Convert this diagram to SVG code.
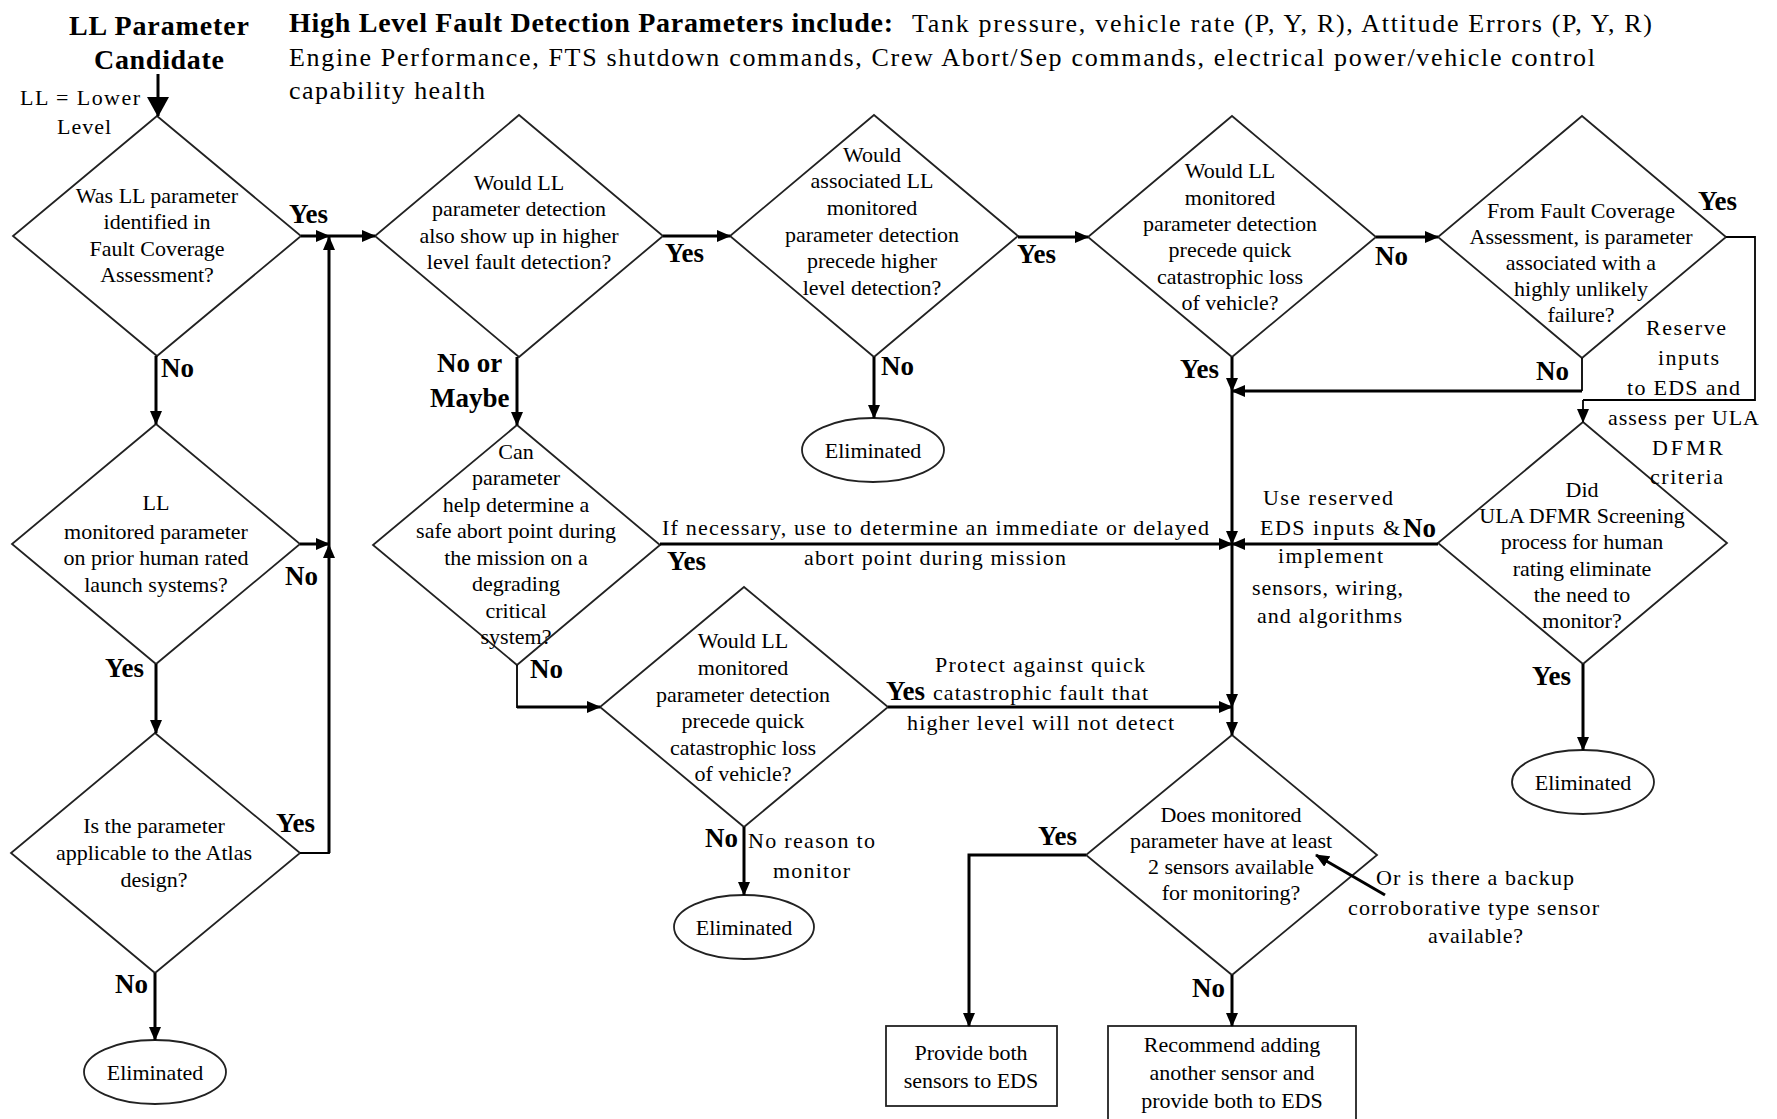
<svg xmlns="http://www.w3.org/2000/svg" width="1777" height="1119" viewBox="0 0 1777 1119">
<style>
text{font-family:"Liberation Serif","Times New Roman",serif;fill:#000}
.t{font-size:22px;text-anchor:middle}
.a{font-size:22px}
.b{font-size:27px;font-weight:bold}
.h{font-size:26px}
.hb{font-size:28px;font-weight:bold}
.shape{fill:#fff;stroke:#222;stroke-width:1.8}
.c{fill:none;stroke:#000;stroke-width:3}
.cn{fill:none;stroke:#000;stroke-width:1.8}
</style>
<defs>
<marker id="ah" viewBox="0 0 14 12" refX="13" refY="6" markerWidth="14" markerHeight="12" markerUnits="userSpaceOnUse" orient="auto"><path d="M0,0 L14,6 L0,12 z" fill="#000"/></marker>
<marker id="ahb" viewBox="0 0 20 22" refX="19" refY="11" markerWidth="20" markerHeight="22" markerUnits="userSpaceOnUse" orient="auto"><path d="M0,0 L20,11 L0,22 z" fill="#000"/></marker>
</defs>
<rect width="1777" height="1119" fill="#fff"/>

<g id="header">
<text x="69" y="35" class="hb" textLength="180" lengthAdjust="spacing">LL Parameter</text>
<text x="94" y="69" class="hb" textLength="130" lengthAdjust="spacing">Candidate</text>
<text x="20" y="105" class="a" textLength="120" lengthAdjust="spacing">LL = Lower</text>
<text x="57" y="134" class="a" textLength="54" lengthAdjust="spacing">Level</text>
<text x="289" y="32" class="hb" textLength="604" lengthAdjust="spacing">High Level Fault Detection Parameters include:</text>
<text x="912" y="32" class="h" textLength="740" lengthAdjust="spacing">Tank pressure, vehicle rate (P, Y, R), Attitude Errors (P, Y, R)</text>
<text x="289" y="66" class="h" textLength="1306" lengthAdjust="spacing">Engine Performance, FTS shutdown commands, Crew Abort/Sep commands, electrical power/vehicle control</text>
<text x="289" y="99" class="h" textLength="196" lengthAdjust="spacing">capability health</text>
</g>

<g id="d1">
<polygon class="shape" points="157,116 301,236 157,356 13,236"/>
<text class="t" x="157" y="203">Was LL parameter</text>
<text class="t" x="157" y="229">identified in</text>
<text class="t" x="157" y="256">Fault Coverage</text>
<text class="t" x="157" y="282">Assessment?</text>
</g>
<g id="d1b">
<polygon class="shape" points="156,424 300,544 156,664 12,544"/>
<text class="t" x="156" y="510">LL</text>
<text class="t" x="156" y="539">monitored parameter</text>
<text class="t" x="156" y="565">on prior human rated</text>
<text class="t" x="156" y="592">launch systems?</text>
</g>
<g id="d1c">
<polygon class="shape" points="155,733 300,853 155,973 11,853"/>
<text class="t" x="154" y="833">Is the parameter</text>
<text class="t" x="154" y="860">applicable to the Atlas</text>
<text class="t" x="154" y="887">design?</text>
</g>
<g id="e1">
<ellipse class="shape" cx="155" cy="1072" rx="71" ry="32"/>
<text class="t" x="155" y="1080">Eliminated</text>
</g>
<g id="d2">
<polygon class="shape" points="519,115 663,236 519,357 375,236"/>
<text class="t" x="519" y="190">Would  LL</text>
<text class="t" x="519" y="216">parameter detection</text>
<text class="t" x="519" y="243">also show up in higher</text>
<text class="t" x="519" y="269">level fault detection?</text>
</g>
<g id="d2b">
<polygon class="shape" points="517,425 660,545 517,665 373,545"/>
<text class="t" x="516" y="459">Can</text>
<text class="t" x="516" y="485">parameter</text>
<text class="t" x="516" y="512">help determine a</text>
<text class="t" x="516" y="538">safe abort point during</text>
<text class="t" x="516" y="565">the mission on a</text>
<text class="t" x="516" y="591">degrading</text>
<text class="t" x="516" y="618">critical</text>
<text class="t" x="516" y="644">system?</text>
</g>
<g id="d2c">
<polygon class="shape" points="744,587 888,707 744,827 600,707"/>
<text class="t" x="743" y="648">Would LL</text>
<text class="t" x="743" y="675">monitored</text>
<text class="t" x="743" y="702">parameter detection</text>
<text class="t" x="743" y="728">precede quick</text>
<text class="t" x="743" y="755">catastrophic loss</text>
<text class="t" x="743" y="781">of vehicle?</text>
</g>
<g id="e3">
<ellipse class="shape" cx="744" cy="927" rx="70" ry="32"/>
<text class="t" x="744" y="935">Eliminated</text>
</g>
<g id="d3">
<polygon class="shape" points="874,115 1018,236 874,357 730,236"/>
<text class="t" x="872" y="162">Would</text>
<text class="t" x="872" y="188">associated LL</text>
<text class="t" x="872" y="215">monitored</text>
<text class="t" x="872" y="242">parameter detection</text>
<text class="t" x="872" y="268">precede higher</text>
<text class="t" x="872" y="295">level detection?</text>
</g>
<g id="e2">
<ellipse class="shape" cx="873" cy="450" rx="71" ry="32"/>
<text class="t" x="873" y="458">Eliminated</text>
</g>
<g id="d4">
<polygon class="shape" points="1232,116 1376,237 1232,357 1088,237"/>
<text class="t" x="1230" y="178">Would LL</text>
<text class="t" x="1230" y="205">monitored</text>
<text class="t" x="1230" y="231">parameter detection</text>
<text class="t" x="1230" y="257">precede quick</text>
<text class="t" x="1230" y="284">catastrophic loss</text>
<text class="t" x="1230" y="310">of vehicle?</text>
</g>
<g id="d5">
<polygon class="shape" points="1582,116 1726,237 1582,358 1438,237"/>
<text class="t" x="1581" y="218">From Fault Coverage</text>
<text class="t" x="1581" y="244">Assessment, is parameter</text>
<text class="t" x="1581" y="270">associated with a</text>
<text class="t" x="1581" y="296">highly unlikely</text>
<text class="t" x="1581" y="322">failure?</text>
</g>
<g id="d6">
<polygon class="shape" points="1583,422 1727,543 1583,664 1438,543"/>
<text class="t" x="1582" y="497">Did</text>
<text class="t" x="1582" y="523">ULA DFMR Screening</text>
<text class="t" x="1582" y="549">process for human</text>
<text class="t" x="1582" y="576">rating eliminate</text>
<text class="t" x="1582" y="602">the need to</text>
<text class="t" x="1582" y="628">monitor?</text>
</g>
<g id="e4">
<ellipse class="shape" cx="1583" cy="782" rx="71" ry="32"/>
<text class="t" x="1583" y="790">Eliminated</text>
</g>
<g id="d7">
<polygon class="shape" points="1232,735 1377,855 1232,975 1086,855"/>
<text class="t" x="1231" y="822">Does monitored</text>
<text class="t" x="1231" y="848">parameter have at least</text>
<text class="t" x="1231" y="874">2 sensors available</text>
<text class="t" x="1231" y="900">for monitoring?</text>
</g>
<g id="b1">
<rect class="shape" x="886" y="1026" width="171" height="80"/>
<text class="t" x="971" y="1060">Provide both</text>
<text class="t" x="971" y="1088">sensors to EDS</text>
</g>
<g id="b2">
<rect class="shape" x="1108" y="1026" width="248" height="110"/>
<text class="t" x="1232" y="1052">Recommend adding</text>
<text class="t" x="1232" y="1080">another sensor and</text>
<text class="t" x="1232" y="1108">provide both to EDS</text>
</g>

<g id="connectors">
<line class="c" x1="158" y1="74" x2="158" y2="116" stroke-width="5" marker-end="url(#ahb)"/>
<line class="c" x1="301" y1="236" x2="329" y2="236" marker-end="url(#ah)"/>
<line class="c" x1="329" y1="236" x2="375" y2="236" marker-end="url(#ah)"/>
<polyline class="cn" points="300,853 329,853 329,845"/>
<line class="c" x1="329" y1="853" x2="329" y2="545" marker-end="url(#ah)"/>
<line class="c" x1="329" y1="545" x2="329" y2="237" marker-end="url(#ah)"/>
<line class="c" x1="300" y1="544" x2="329" y2="544" marker-end="url(#ah)"/>
<line class="c" x1="156" y1="356" x2="156" y2="424" marker-end="url(#ah)"/>
<line class="c" x1="156" y1="664" x2="156" y2="733" marker-end="url(#ah)"/>
<line class="c" x1="155" y1="973" x2="155" y2="1040" marker-end="url(#ah)"/>
<line class="c" x1="663" y1="236" x2="730" y2="236" marker-end="url(#ah)"/>
<line class="c" x1="517" y1="357" x2="517" y2="425" marker-end="url(#ah)"/>
<line class="c" x1="1018" y1="237" x2="1088" y2="237" marker-end="url(#ah)"/>
<line class="c" x1="874" y1="357" x2="874" y2="418" marker-end="url(#ah)"/>
<line class="c" x1="1376" y1="237" x2="1438" y2="237" marker-end="url(#ah)"/>
<line class="c" x1="1232" y1="357" x2="1232" y2="391" marker-end="url(#ah)"/>
<polyline class="cn" points="1582,358 1582,391"/>
<line class="c" x1="1582" y1="391" x2="1232" y2="391" marker-end="url(#ah)"/>
<polyline class="cn" points="1726,237 1755,237 1755,400 1583,400"/>
<line class="cn" x1="1583" y1="400" x2="1583" y2="422" marker-end="url(#ah)"/>
<line class="c" x1="1232" y1="391" x2="1232" y2="544" marker-end="url(#ah)"/>
<line class="c" x1="1232" y1="544" x2="1232" y2="707" marker-end="url(#ah)"/>
<line class="c" x1="1232" y1="707" x2="1232" y2="735" marker-end="url(#ah)"/>
<line class="c" x1="660" y1="544" x2="1232" y2="544" marker-end="url(#ah)"/>
<line class="c" x1="1438" y1="544" x2="1232" y2="544" marker-end="url(#ah)"/>
<line class="c" x1="1583" y1="664" x2="1583" y2="750" marker-end="url(#ah)"/>
<polyline class="cn" points="517,665 517,707 530,707"/>
<line class="c" x1="517" y1="707" x2="600" y2="707" marker-end="url(#ah)"/>
<line class="c" x1="888" y1="707" x2="1232" y2="707" marker-end="url(#ah)"/>
<line class="c" x1="744" y1="827" x2="744" y2="895" marker-end="url(#ah)"/>
<polyline class="c" points="1086,855 969,855 969,1026" marker-end="url(#ah)"/>
<line class="c" x1="1232" y1="975" x2="1232" y2="1026" marker-end="url(#ah)"/>
<line class="c" x1="1385" y1="895" x2="1316" y2="855" marker-end="url(#ah)"/>
</g>

<g id="labels">
<text x="289" y="223" class="b">Yes</text>
<text x="161" y="377" class="b">No</text>
<text x="285" y="585" class="b">No</text>
<text x="105" y="677" class="b">Yes</text>
<text x="276" y="832" class="b">Yes</text>
<text x="115" y="993" class="b">No</text>
<text x="665" y="262" class="b">Yes</text>
<text x="437" y="372" class="b">No or</text>
<text x="430" y="407" class="b">Maybe</text>
<text x="667" y="570" class="b">Yes</text>
<text x="530" y="678" class="b">No</text>
<text x="1017" y="263" class="b">Yes</text>
<text x="881" y="375" class="b">No</text>
<text x="1375" y="265" class="b">No</text>
<text x="1180" y="378" class="b">Yes</text>
<text x="1698" y="210" class="b">Yes</text>
<text x="1536" y="380" class="b">No</text>
<text x="1403" y="537" class="b">No</text>
<text x="1532" y="685" class="b">Yes</text>
<text x="886" y="700" class="b">Yes</text>
<text x="705" y="847" class="b">No</text>
<text x="1038" y="845" class="b">Yes</text>
<text x="1192" y="997" class="b">No</text>
<text x="662" y="535" class="a" textLength="547" lengthAdjust="spacing">If necessary, use to determine an immediate or delayed</text>
<text x="804" y="565" class="a" textLength="262" lengthAdjust="spacing">abort point during mission</text>
<text x="935" y="672" class="a" textLength="210" lengthAdjust="spacing">Protect against quick</text>
<text x="933" y="700" class="a" textLength="215" lengthAdjust="spacing">catastrophic fault that</text>
<text x="907" y="730" class="a" textLength="267" lengthAdjust="spacing">higher level will not detect</text>
<text x="748" y="848" class="a" textLength="127" lengthAdjust="spacing">No reason to</text>
<text x="773" y="878" class="a" textLength="77" lengthAdjust="spacing">monitor</text>
<text x="1263" y="505" class="a" textLength="130" lengthAdjust="spacing">Use reserved</text>
<text x="1260" y="535" class="a" textLength="140" lengthAdjust="spacing">EDS inputs &amp;</text>
<text x="1278" y="563" class="a" textLength="105" lengthAdjust="spacing">implement</text>
<text x="1252" y="595" class="a" textLength="151" lengthAdjust="spacing">sensors, wiring,</text>
<text x="1257" y="623" class="a" textLength="145" lengthAdjust="spacing">and algorithms</text>
<text x="1646" y="335" class="a" textLength="80" lengthAdjust="spacing">Reserve</text>
<text x="1658" y="365" class="a" textLength="61" lengthAdjust="spacing">inputs</text>
<text x="1627" y="395" class="a" textLength="113" lengthAdjust="spacing">to EDS and</text>
<text x="1608" y="425" class="a" textLength="151" lengthAdjust="spacing">assess per ULA</text>
<text x="1652" y="455" class="a" textLength="71" lengthAdjust="spacing">DFMR</text>
<text x="1650" y="484" class="a" textLength="73" lengthAdjust="spacing">criteria</text>
<text x="1376" y="885" class="a" textLength="198" lengthAdjust="spacing">Or is there a backup</text>
<text x="1348" y="915" class="a" textLength="251" lengthAdjust="spacing">corroborative type sensor</text>
<text x="1428" y="943" class="a" textLength="95" lengthAdjust="spacing">available?</text>
</g>
</svg>
